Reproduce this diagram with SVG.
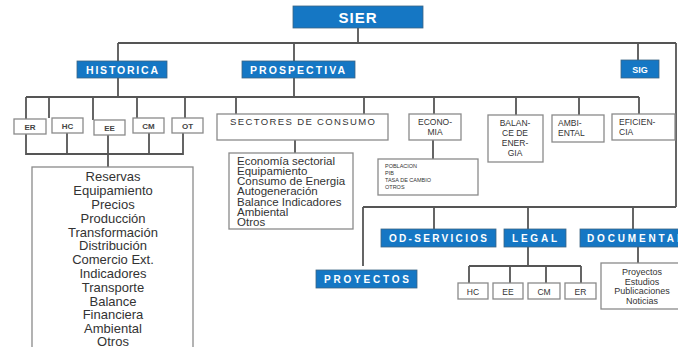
<svg xmlns="http://www.w3.org/2000/svg" width="678" height="347" viewBox="0 0 678 347">
<style>
.bg{fill:#ffffff}
.conn line,.conn polyline{stroke:#555;stroke-width:1.8;fill:none}
.blue{fill:#1577c4;stroke:#3d6584;stroke-width:0.8}
.box{fill:#fff;stroke:#8a8a8a;stroke-width:1.3}
.bt{font-family:"Liberation Sans",Arial,sans-serif;font-weight:bold;fill:#fff}
.st{font-family:"Liberation Sans",Arial,sans-serif;font-weight:bold;fill:#444;font-size:8px}
.t{font-family:"Liberation Sans",Arial,sans-serif;fill:#333}
</style>
<rect class="bg" x="0" y="0" width="678" height="347"/>
<g class="conn">
<line x1="358" y1="28" x2="358" y2="43"/>
<line x1="118" y1="43" x2="676" y2="43"/>
<line x1="118" y1="43" x2="118" y2="61"/>
<line x1="294" y1="43" x2="294" y2="61"/>
<line x1="638" y1="43" x2="638" y2="60"/>
<line x1="676" y1="43" x2="676" y2="207"/>
<line x1="118" y1="78" x2="118" y2="97"/>
<line x1="294" y1="78" x2="294" y2="97"/>
<line x1="26" y1="97" x2="639" y2="97"/>
<line x1="26" y1="97" x2="26" y2="119"/>
<line x1="49" y1="97" x2="49" y2="118"/>
<line x1="93" y1="97" x2="93" y2="120"/>
<line x1="137" y1="97" x2="137" y2="118"/>
<line x1="185" y1="97" x2="185" y2="118"/>
<line x1="236" y1="97" x2="236" y2="114"/>
<line x1="364" y1="97" x2="364" y2="114"/>
<line x1="434" y1="97" x2="434" y2="114"/>
<line x1="516" y1="97" x2="516" y2="115"/>
<line x1="579" y1="97" x2="579" y2="115"/>
<line x1="639" y1="97" x2="639" y2="114"/>
<polyline points="26,134 26,154 183,154 183,133"/>
<line x1="67" y1="133" x2="67" y2="154"/>
<line x1="149" y1="133" x2="149" y2="154"/>
<line x1="108" y1="135" x2="108" y2="167"/>
<line x1="295" y1="140" x2="295" y2="153"/>
<line x1="433" y1="140" x2="433" y2="159"/>
<line x1="363" y1="207" x2="676" y2="207"/>
<line x1="363" y1="207" x2="363" y2="266"/>
<line x1="434" y1="207" x2="434" y2="229"/>
<line x1="528" y1="207" x2="528" y2="229"/>
<line x1="633" y1="207" x2="633" y2="229"/>
<line x1="528" y1="247" x2="528" y2="266"/>
<line x1="469" y1="266" x2="581" y2="266"/>
<line x1="469" y1="266" x2="469" y2="283"/>
<line x1="510" y1="266" x2="510" y2="283"/>
<line x1="546" y1="266" x2="546" y2="283"/>
<line x1="581" y1="266" x2="581" y2="283"/>
<line x1="638" y1="247" x2="638" y2="263"/>
</g>
<g id="sier"><rect class="blue" x="293" y="6" width="130" height="22"/><text class="bt" x="358" y="22.5" font-size="15" letter-spacing="1" text-anchor="middle">SIER</text></g>
<g id="historica"><rect class="blue" x="77" y="61" width="90" height="17"/><text class="bt" x="86" y="73.5" font-size="10.5" textLength="72" lengthAdjust="spacing">HISTORICA</text></g>
<g id="prospectiva"><rect class="blue" x="242" y="61" width="113" height="17"/><text class="bt" x="250" y="73.5" font-size="10.5" textLength="95" lengthAdjust="spacing">PROSPECTIVA</text></g>
<g id="sig"><rect class="blue" x="621" y="60" width="38" height="18"/><text class="bt" x="640" y="72.5" font-size="9" text-anchor="middle">SIG</text></g>
<g id="h-er"><rect class="box" x="14" y="119" width="32" height="15"/><text class="st" x="30" y="130" text-anchor="middle">ER</text></g>
<g id="h-hc"><rect class="box" x="52" y="118" width="31" height="15"/><text class="st" x="67.5" y="129" text-anchor="middle">HC</text></g>
<g id="h-ee"><rect class="box" x="94" y="120" width="31" height="15"/><text class="st" x="109.5" y="131" text-anchor="middle">EE</text></g>
<g id="h-cm"><rect class="box" x="133" y="118" width="31" height="15"/><text class="st" x="148.5" y="129" text-anchor="middle">CM</text></g>
<g id="h-ot"><rect class="box" x="172" y="118" width="31" height="15"/><text class="st" x="187.5" y="129" text-anchor="middle">OT</text></g>
<g id="lista">
<rect class="box" x="32" y="167" width="161" height="190"/>
<g class="t" font-size="13" text-anchor="middle">
<text x="113" y="181">Reservas</text>
<text x="113" y="195">Equipamiento</text>
<text x="113" y="209">Precios</text>
<text x="113" y="222.5">Producción</text>
<text x="113" y="236.5">Transformación</text>
<text x="113" y="250">Distribución</text>
<text x="113" y="264">Comercio Ext.</text>
<text x="113" y="278">Indicadores</text>
<text x="113" y="291.5">Transporte</text>
<text x="113" y="305.5">Balance</text>
<text x="113" y="319">Financiera</text>
<text x="113" y="333">Ambiental</text>
<text x="113" y="346">Otros</text>
</g>
</g>
<g id="sectores"><rect class="box" x="217" y="114" width="171" height="26"/><text class="t" x="230" y="125" font-size="9.5" textLength="145" lengthAdjust="spacing">SECTORES DE CONSUMO</text></g>
<g id="sectores-lista">
<rect class="box" x="229" y="153" width="124" height="76"/>
<g class="t" font-size="10.3" transform="translate(237 0) scale(1.12 1)">
<text x="0" y="165">Economía sectorial</text>
<text x="0" y="175">Equipamiento</text>
<text x="0" y="185.5">Consumo de Energia</text>
<text x="0" y="195.5">Autogeneración</text>
<text x="0" y="206">Balance Indicadores</text>
<text x="0" y="216">Ambiental</text>
<text x="0" y="226">Otros</text>
</g>
</g>
<g id="economia"><rect class="box" x="409" y="114" width="52" height="26"/><text class="t" font-size="8.5" text-anchor="middle"><tspan x="435" y="125">ECONO-</tspan><tspan x="435" y="135">MIA</tspan></text></g>
<g id="economia-lista">
<rect class="box" x="378" y="159" width="100" height="36"/>
<g class="t" font-size="5.5">
<text x="385" y="168">POBLACION</text>
<text x="385" y="175">PIB</text>
<text x="385" y="182">TASA DE CAMBIO</text>
<text x="385" y="189">OTROS</text>
</g>
</g>
<g id="balance"><rect class="box" x="488" y="115" width="55" height="47"/><text class="t" font-size="8.5" text-anchor="middle"><tspan x="515" y="126">BALAN-</tspan><tspan x="515" y="136">CE DE</tspan><tspan x="515" y="146">ENER-</tspan><tspan x="515" y="156">GIA</tspan></text></g>
<g id="ambiental"><rect class="box" x="552" y="115" width="52" height="27"/><text class="t" font-size="8.5"><tspan x="558" y="126">AMBI-</tspan><tspan x="558" y="136">ENTAL</tspan></text></g>
<g id="eficiencia"><rect class="box" x="612" y="114" width="63" height="26"/><text class="t" font-size="8.5"><tspan x="619" y="125">EFICIEN-</tspan><tspan x="619" y="135">CIA</tspan></text></g>
<g id="od-servicios"><rect class="blue" x="381" y="229" width="115" height="18"/><text class="bt" x="389" y="241.5" font-size="10" textLength="98" lengthAdjust="spacing">OD-SERVICIOS</text></g>
<g id="legal"><rect class="blue" x="504" y="229" width="62" height="18"/><text class="bt" x="512" y="241.5" font-size="10" textLength="45" lengthAdjust="spacing">LEGAL</text></g>
<g id="documental"><rect class="blue" x="580" y="229" width="110" height="18"/><text class="bt" x="587" y="241.5" font-size="10" textLength="96" lengthAdjust="spacing">DOCUMENTAL</text></g>
<g id="proyectos"><rect class="blue" x="316" y="270" width="101" height="18"/><text class="bt" x="324" y="282.5" font-size="10" textLength="85" lengthAdjust="spacing">PROYECTOS</text></g>
<g id="l-hc"><rect class="box" x="458" y="283" width="30" height="16"/><text class="t" x="473" y="294.5" font-size="8.5" text-anchor="middle">HC</text></g>
<g id="l-ee"><rect class="box" x="493" y="283" width="30" height="16"/><text class="t" x="508" y="294.5" font-size="8.5" text-anchor="middle">EE</text></g>
<g id="l-cm"><rect class="box" x="528" y="283" width="32" height="16"/><text class="t" x="544" y="294.5" font-size="8.5" text-anchor="middle">CM</text></g>
<g id="l-er"><rect class="box" x="565" y="283" width="31" height="16"/><text class="t" x="580.5" y="294.5" font-size="8.5" text-anchor="middle">ER</text></g>
<g id="documental-lista">
<rect class="box" x="601" y="263" width="90" height="46"/>
<g class="t" font-size="9" text-anchor="middle">
<text x="642" y="275">Proyectos</text>
<text x="642" y="284.5">Estudios</text>
<text x="642" y="294">Publicaciones</text>
<text x="642" y="304">Noticias</text>
</g>
</g>
</svg>
